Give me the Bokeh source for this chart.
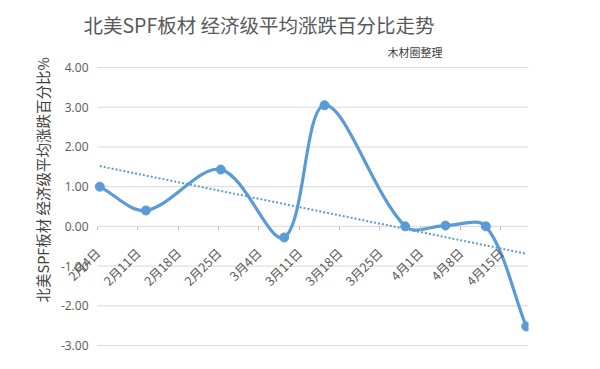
import math
import numpy as np
import pandas as pd
from bokeh.plotting import figure
from bokeh.models import Range1d, FixedTicker, NumeralTickFormatter, LinearAxis, Title
from bokeh.embed import file_html
from bokeh.resources import INLINE

# ---- data ----
point_dates = ["2019-02-04", "2019-02-12", "2019-02-25", "2019-03-08", "2019-03-15",
               "2019-03-29", "2019-04-05", "2019-04-12", "2019-04-19"]
pct_values = [1.00, 0.40, 1.43, -0.28, 3.05, 0.00, 0.02, 0.00, -2.52]
tick_dates = ["2019-02-04", "2019-02-11", "2019-02-18", "2019-02-25", "2019-03-04", "2019-03-11",
              "2019-03-18", "2019-03-25", "2019-04-01", "2019-04-08", "2019-04-15"]
tick_labels = ["2月4日", "2月11日", "2月18日", "2月25日", "3月4日", "3月11日",
               "3月18日", "3月25日", "4月1日", "4月8日", "4月15日"]
y_ticks = [-3, -2, -1, 0, 1, 2, 3, 4]

title_text = "北美SPF板材 经济级平均涨跌百分比走势"
subtitle_text = "木材圈整理"
ylabel_text = "北美SPF板材 经济级平均涨跌百分比%"

# ---- derived positions (days since first date) ----
base = pd.Timestamp(point_dates[0])
xd = np.array([(pd.Timestamp(d) - base).days for d in point_dates], dtype=float)
yd = np.array(pct_values, dtype=float)
tick_shift = -0.4
tx = [round((pd.Timestamp(d) - base).days + tick_shift, 3) for d in tick_dates]

BLUE = "#5B9BD5"
GRAY_TXT = "#595959"
CJK = "Noto Sans CJK SC"

# plotting area: days -0.4 .. 74.4 over 431 px, values -3 .. 4 over 278 px;
# the frame is padded so axis labels are not clipped
x_lo, x_hi = -0.4, 74.4
y_lo, y_hi = -3.0, 4.0
area_w, area_h = 431, 278
pad_l, pad_t, pad_b = 44, 8, 12
x_start = x_lo - pad_l * (x_hi - x_lo) / area_w
y_start = y_lo - pad_b * (y_hi - y_lo) / area_h
y_end = y_hi + pad_t * (y_hi - y_lo) / area_h

p = figure(width=596, height=365, output_backend="svg", toolbar_location=None,
           x_range=Range1d(x_start, x_hi), y_range=Range1d(y_start, y_end),
           x_axis_location=None, y_axis_location=None,
           min_border_left=97 - pad_l, min_border_right=68,
           min_border_top=67 - pad_t, min_border_bottom=20 - pad_b)
p.outline_line_color = None
p.background_fill_color = "white"
p.border_fill_color = "white"
p.xgrid.visible = False
p.ygrid.visible = False

# horizontal gridlines across the plotting area
p.segment(x0=[x_lo] * len(y_ticks), y0=y_ticks, x1=[x_hi] * len(y_ticks), y1=y_ticks,
          line_color="#D9D9D9", line_width=1)

# y axis at the left edge of the plotting area
yaxis = LinearAxis(fixed_location=x_lo)
yaxis.ticker = FixedTicker(ticks=y_ticks)
yaxis.formatter = NumeralTickFormatter(format="0.00")
yaxis.axis_line_color = None
yaxis.major_tick_line_color = None
yaxis.minor_tick_line_color = None
yaxis.major_tick_out = 0
yaxis.major_tick_in = 0
yaxis.major_label_standoff = 9
yaxis.major_label_text_font = "Open Sans"
yaxis.major_label_text_font_size = "12px"
yaxis.major_label_text_color = GRAY_TXT
p.add_layout(yaxis, "left")

# x axis sitting on the zero line
xaxis = LinearAxis(fixed_location=0)
xaxis.ticker = FixedTicker(ticks=tx)
xaxis.major_label_overrides = {t: lab for t, lab in zip(tx, tick_labels)}
xaxis.major_label_orientation = math.pi / 4
xaxis.major_label_standoff = 20
xaxis.major_label_text_font = CJK
xaxis.major_label_text_font_size = "12.5px"
xaxis.major_label_text_color = GRAY_TXT
xaxis.axis_line_color = None
xaxis.major_tick_line_color = "#BFBFBF"
xaxis.major_tick_out = 4
xaxis.major_tick_in = 0
xaxis.minor_tick_line_color = None
p.add_layout(xaxis, "below")

# linear trendline
slope, intercept = np.polyfit(xd, yd, 1)
p.line(x=[xd[0], xd[-1]], y=[intercept + slope * xd[0], intercept + slope * xd[-1]],
       line_color=BLUE, line_width=2, line_dash="2 2")

# smoothed line: bezier segments with chord-length weighted tangents (in screen space)
sx = area_w / (x_hi - x_lo)
sy = area_h / (y_hi - y_lo)
P = np.column_stack([xd, yd])
Pext = np.vstack([P[0], P, P[-1]])

def sdist(a, b):
    return math.hypot((a[0] - b[0]) * sx, (a[1] - b[1]) * sy)

x0s, y0s, x1s, y1s, c0x, c0y, c1x, c1y = [], [], [], [], [], [], [], []
for i in range(len(P) - 1):
    pm, p0, p1, p2 = Pext[i], Pext[i + 1], Pext[i + 2], Pext[i + 3]
    d_prev, d_cur, d_next = sdist(pm, p0), sdist(p0, p1), sdist(p1, p2)
    f0 = d_cur / (3.0 * (d_prev + d_cur))
    f1 = d_cur / (3.0 * (d_cur + d_next))
    c0 = p0 + (p1 - pm) * f0
    c1 = p1 - (p2 - p0) * f1
    x0s.append(p0[0]); y0s.append(p0[1]); x1s.append(p1[0]); y1s.append(p1[1])
    c0x.append(c0[0]); c0y.append(c0[1]); c1x.append(c1[0]); c1y.append(c1[1])
p.bezier(x0=x0s, y0=y0s, x1=x1s, y1=y1s, cx0=c0x, cy0=c0y, cx1=c1x, cy1=c1y,
         line_color=BLUE, line_width=3.2, line_cap="round")

p.scatter(x=xd, y=yd, size=9, fill_color=BLUE, line_color=BLUE)

# titles
p.add_layout(Title(text=subtitle_text, align="right", offset=86, standoff=0,
                   text_font=CJK, text_font_size="11px", text_font_style="normal",
                   text_color="#404040"), "above")
p.add_layout(Title(text=title_text, align="left", offset=30, standoff=6,
                   text_font=CJK, text_font_size="19.5px", text_font_style="normal",
                   text_color=GRAY_TXT), "above")
p.add_layout(Title(text=ylabel_text, align="left", offset=43 + pad_b, standoff=1,
                   text_font=CJK, text_font_size="14.5px", text_font_style="normal",
                   text_color="#404040"), "left")

open("out.html", "w").write(file_html(p, INLINE))
